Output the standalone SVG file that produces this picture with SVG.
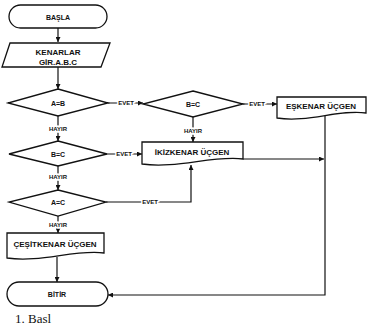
<svg xmlns="http://www.w3.org/2000/svg" width="374" height="326" viewBox="0 0 374 326">
<defs>
<marker id="ah" viewBox="0 0 10 10" refX="10" refY="5" markerWidth="5" markerHeight="5" orient="auto-start-reverse" markerUnits="userSpaceOnUse">
<path d="M0,0 L10,5 L0,10 Z" fill="#111"/>
</marker>
<style>
.s{fill:#fff;stroke:#111;stroke-width:1.3}
.c{fill:none;stroke:#111;stroke-width:1.2}
.t{font-family:"Liberation Sans",Arial,sans-serif;font-weight:bold;fill:#111;text-anchor:middle}
.n{font-size:8px}
.d{font-size:7px}
.l{font-size:6px;stroke:#fff;stroke-width:3;paint-order:stroke}
</style>
</defs>
<rect width="374" height="326" fill="#fff"/>
<g id="connectors">
<path class="c" d="M58,28 V42" marker-end="url(#ah)"/>
<path class="c" d="M58,67 V89" marker-end="url(#ah)"/>
<path class="c" d="M108,103 H143" marker-end="url(#ah)"/>
<text class="t l" x="126" y="105">EVET</text>
<path class="c" d="M243,104 H277" marker-end="url(#ah)"/>
<text class="t l" x="257" y="106">EVET</text>
<path class="c" d="M193,117 V142" marker-end="url(#ah)"/>
<text class="t l" x="193" y="133">HAYIR</text>
<path class="c" d="M58,116 V141" marker-end="url(#ah)"/>
<text class="t l" x="58" y="131">HAYIR</text>
<path class="c" d="M107,154 H142" marker-end="url(#ah)"/>
<text class="t l" x="124" y="156">EVET</text>
<path class="c" d="M58,166 V190" marker-end="url(#ah)"/>
<text class="t l" x="58" y="179">HAYIR</text>
<path class="c" d="M106,202 H191 V165" marker-end="url(#ah)"/>
<text class="t l" x="150" y="204">EVET</text>
<path class="c" d="M58,216 V233" marker-end="url(#ah)"/>
<text class="t l" x="58" y="227">HAYIR</text>
<path class="c" d="M243,159 H324" marker-end="url(#ah)"/>
<path class="c" d="M325,116 V295 H108" marker-end="url(#ah)"/>
<path class="c" d="M57,257 V282" marker-end="url(#ah)"/>
</g>
<g id="basla">
<rect class="s" x="9" y="5" width="98" height="23" rx="11.5"/>
<text class="t d" x="58" y="19.5">BAŞLA</text>
</g>
<g id="kenarlar">
<path class="s" d="M10,43 H110 L101,67 H2 Z"/>
<text class="t n" x="58" y="55">KENARLAR</text>
<text class="t n" x="58" y="65">GİR.A.B.C</text>
</g>
<g id="d-ab">
<path class="s" d="M58,89 L108,103 L58,116 L8,103 Z"/>
<text class="t d" x="58" y="105.5">A=B</text>
</g>
<g id="d-bc-right">
<path class="s" d="M193,91 L243,104 L193,117 L143,104 Z"/>
<text class="t d" x="193" y="106.5">B=C</text>
</g>
<g id="eskenar">
<path class="s" d="M277,97 H366 V113 C339,109 308,123 277,118 Z"/>
<text class="t n" x="321" y="109">EŞKENAR ÜÇGEN</text>
</g>
<g id="d-bc">
<path class="s" d="M58,141 L107,154 L58,166 L9,154 Z"/>
<text class="t d" x="58" y="156.5">B=C</text>
</g>
<g id="ikizkenar">
<path class="s" d="M142,142 H243 V159 C213,155 177,169 142,164 Z"/>
<text class="t n" x="192" y="155">İKİZKENAR ÜÇGEN</text>
</g>
<g id="d-ac">
<path class="s" d="M58,190 L106,202 L58,216 L9,202 Z"/>
<text class="t d" x="58" y="204.5">A=C</text>
</g>
<g id="cesitkenar">
<path class="s" d="M7,233 H104 V253 C75,249 41,263 7,258 Z"/>
<text class="t n" x="55" y="247">ÇEŞİTKENAR ÜÇGEN</text>
</g>
<g id="bitir">
<rect class="s" x="7" y="282" width="101" height="24" rx="12"/>
<text class="t d" x="57" y="296.5">BİTİR</text>
</g>
<text x="15" y="323" font-family="'Liberation Serif','Times New Roman',serif" font-size="13" fill="#111">1. Basl</text>
</svg>
